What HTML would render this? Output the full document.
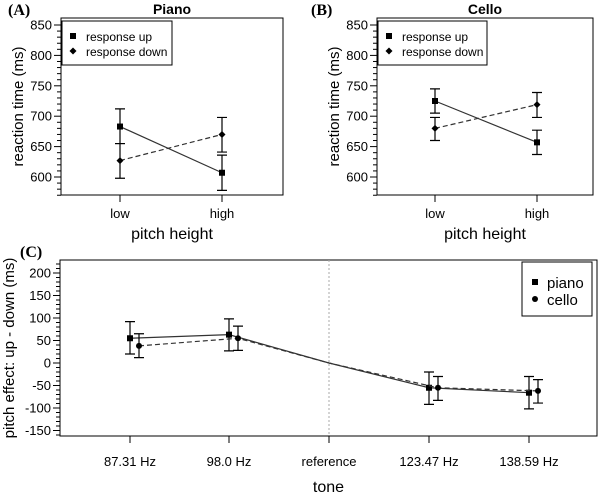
<!DOCTYPE html>
<html><head><meta charset="utf-8"><style>
body{margin:0;background:#fff}
svg{display:block;font-family:"Liberation Sans",Arial,sans-serif}
</style></head><body>
<svg id="s" width="600" height="497" viewBox="0 0 600 497"></svg>
<script>
const categoriesAB = ['low','high'];
const pianoUp = [683, 607], pianoUpLo = [655, 578], pianoUpHi = [712, 636];
const pianoDown = [627, 670], pianoDownLo = [598, 641], pianoDownHi = [655, 698];
const celloUp = [725, 657], celloUpLo = [705, 637], celloUpHi = [745, 677];
const celloDown = [680, 719], celloDownLo = [660, 698], celloDownHi = [698, 739];
const ticksAB = [600, 650, 700, 750, 800, 850];
const tonesC = ['87.31 Hz','98.0 Hz','reference','123.47 Hz','138.59 Hz'];
const pianoC = [55, 63, 0, -55, -66], pianoCLo = [20, 27, null, -92, -102], pianoCHi = [92, 98, null, -20, -30];
const celloC = [38, 55, 0, -55, -62], celloCLo = [12, 28, null, -83, -89], celloCHi = [65, 82, null, -30, -37];
const ticksC = [-150, -100, -50, 0, 50, 100, 150, 200];

const NS='http://www.w3.org/2000/svg', svg=document.getElementById('s');
function el(tag, at, parent){const e=document.createElementNS(NS,tag);for(const k in at)e.setAttribute(k,at[k]);(parent||svg).appendChild(e);return e;}
function txt(s,at,parent){const e=el('text',at,parent);e.textContent=s;return e;}
function sq(g,x,y){return el('rect',{x:x-3,y:y-3,width:6,height:6,fill:'#000'},g);}
function dia(g,x,y){return el('path',{d:`M${x} ${y-3.5}L${x+3.5} ${y}L${x} ${y+3.5}L${x-3.5} ${y}Z`,fill:'#000'},g);}
function ebar(g,x,y1,y2){el('path',{d:`M${x} ${y1}V${y2}M${x-5} ${y1}H${x+5}M${x-5} ${y2}H${x+5}`,stroke:'#000','stroke-width':1.2,fill:'none'},g);}

function panel(o){
  const g=el('g',{});  
  const y=v=>o.y0+(v-o.v0)*(o.y1-o.y0)/(o.v1-o.v0);
  el('rect',{x:o.L,y:o.T,width:o.R-o.L,height:o.B-o.T,fill:'none',stroke:'#000','stroke-width':1},g);
  const ax=el('g',{},g);  
  for(let v=o.mmin; v<=o.mmax; v+=10){const yy=y(v); el('line',{x1:o.L-(v%50===0?7:4),x2:o.L,y1:yy,y2:yy,stroke:'#000','stroke-width':1},ax);}
  o.ticks.forEach(v=>txt(v,{x:o.L-9,y:y(v)+4.5,'text-anchor':'end','font-size':13,fill:'#000'},ax));
  const ylab=txt(o.ylabel,{x:0,y:0,transform:`translate(${o.ylx},${(o.T+o.B)/2}) rotate(-90)`,'text-anchor':'middle','font-size':o.ylfs,fill:'#000'},g);
   
  const xa=el('g',{},g);  
  o.cats.forEach((c,i)=>{const xx=o.xs(i); el('line',{x1:xx,x2:xx,y1:o.B,y2:o.B+7,stroke:'#000'},xa); txt(c,{x:xx,y:o.xty,'text-anchor':'middle','font-size':13,fill:'#000'},xa);});
  const xl=txt(o.xlabel,{x:(o.L+o.R)/2+o.xlo,y:o.xly,'text-anchor':'middle','font-size':16,fill:'#000'},g);
   
  return {g,y};
}

function abPanel(name,L,R,xsArr,up,upLo,upHi,dn,dnLo,dnHi,title,label,labelX,legL,legR){
  const p=panel({name,L,R,T:18,B:195,y0:177,y1:25,v0:600,v1:850,mmin:570,mmax:850,ticks:ticksAB,ylabel:'reaction time (ms)',ylx:L-38,ylfs:15,
    cats:categoriesAB,xs:i=>xsArr[i],xty:218,xlabel:'pitch height',xlo:0,xly:239});
  const g=p.g,y=p.y;
  txt(title,{x:(L+R)/2,y:14,'text-anchor':'middle','font-size':14,'font-weight':'bold',fill:'#000'},g);
  txt(label,{x:labelX,y:15,'font-size':16,'font-weight':'bold','font-family':'Liberation Serif,serif',fill:'#000'},g);
  const su=el('g',{},g);  
  const sd=el('g',{},g);  
  el('line',{x1:xsArr[0],y1:y(up[0]),x2:xsArr[1],y2:y(up[1]),stroke:'#333','stroke-width':1.2},su);
  el('line',{x1:xsArr[0],y1:y(dn[0]),x2:xsArr[1],y2:y(dn[1]),stroke:'#333','stroke-width':1.2,'stroke-dasharray':'5,3'},sd);
  for(let i=0;i<2;i++){ebar(su,xsArr[i],y(upLo[i]),y(upHi[i]));sq(su,xsArr[i],y(up[i]));ebar(sd,xsArr[i],y(dnLo[i]),y(dnHi[i]));dia(sd,xsArr[i],y(dn[i]));}
  const lg=el('g',{},g);  
  el('rect',{x:legL,y:21,width:legR-legL,height:44,fill:'#fff',stroke:'#000'},lg);
  sq(lg,legL+11,36); txt('response up',{x:legL+24,y:41,'font-size':12,fill:'#000'},lg);
  dia(lg,legL+11,51); txt('response down',{x:legL+24,y:56,'font-size':12,fill:'#000'},lg);
}
abPanel('panel-a-piano',61,283,[120,222],pianoUp,pianoUpLo,pianoUpHi,pianoDown,pianoDownLo,pianoDownHi,'Piano','(A)',8,62,172);
abPanel('panel-b-cello',377,593,[435,537],celloUp,celloUpLo,celloUpHi,celloDown,celloDownLo,celloDownHi,'Cello','(B)',311,378,487);

// Panel C
const xC=[130,229,329,429,529];
const pc=panel({name:'panel-c-pitch-effect',L:60,R:597,T:260,B:436,y0:363,y1:273,v0:0,v1:200,mmin:-160,mmax:220,ticks:ticksC,ylabel:'pitch effect: up - down (ms)',ylx:14,ylfs:15,
  cats:tonesC,xs:i=>xC[i],xty:466,xlabel:'tone',xlo:0,xly:492});
const gC=pc.g,yC=pc.y;
txt('(C)',{x:20,y:257,'font-size':16,'font-weight':'bold','font-family':'Liberation Serif,serif',fill:'#000'},gC);
el('line',{x1:xC[2],x2:xC[2],y1:260,y2:436,stroke:'#aaa','stroke-dasharray':'2,2'},gC);
const sp=el('g',{},gC);  
const sc=el('g',{},gC);  
const off=9;
el('polyline',{points:pianoC.map((v,i)=>`${xC[i]},${yC(v)}`).join(' '),fill:'none',stroke:'#333','stroke-width':1.2},sp);
el('polyline',{points:celloC.map((v,i)=>`${xC[i]+(i===2?0:off)},${yC(v)}`).join(' '),fill:'none',stroke:'#333','stroke-width':1.2,'stroke-dasharray':'5,3'},sc);
for(let i=0;i<5;i++){
  if(pianoCLo[i]!==null){ebar(sp,xC[i],yC(pianoCLo[i]),yC(pianoCHi[i]));sq(sp,xC[i],yC(pianoC[i]));}
  if(celloCLo[i]!==null){ebar(sc,xC[i]+off,yC(celloCLo[i]),yC(celloCHi[i]));el('circle',{cx:xC[i]+off,cy:yC(celloC[i]),r:3,fill:'#000'},sc);}
}
const lgC=el('g',{},gC);  
el('rect',{x:522,y:262,width:70,height:54,fill:'#fff',stroke:'#000'},lgC);
sq(lgC,535,282); txt('piano',{x:547,y:288,'font-size':15,fill:'#000'},lgC);
el('circle',{cx:535,cy:299,r:3,fill:'#000'},lgC); txt('cello',{x:547,y:305,'font-size':15,fill:'#000'},lgC);
</script>
</body></html>
